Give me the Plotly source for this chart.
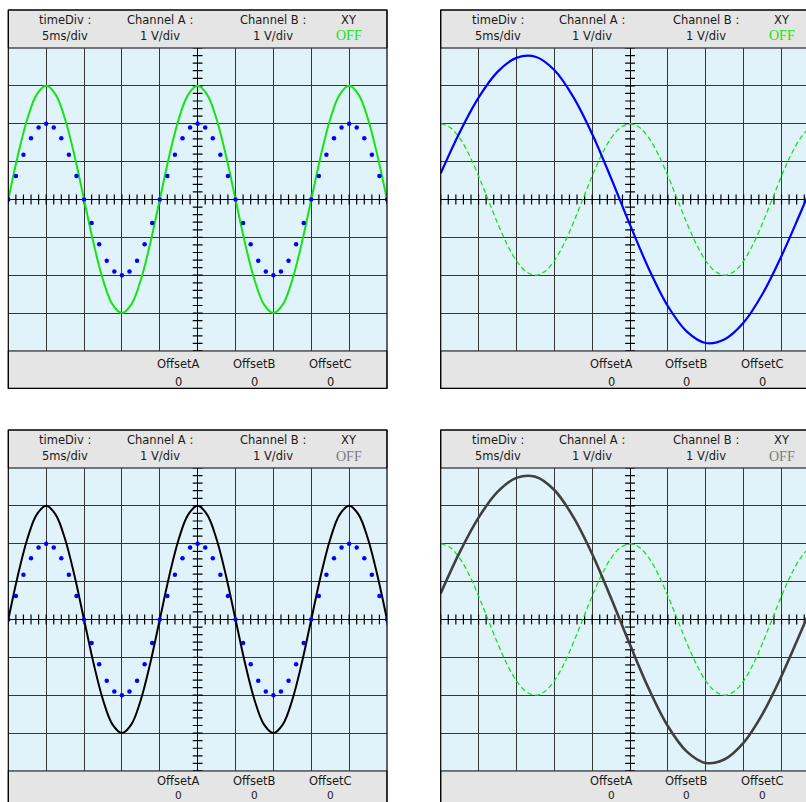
import plotly.graph_objects as go

W, H = 806, 802

# ---- signal data (values in screen divisions) ----
t_quarter = [-5.0, -4.75, -4.5, -4.25, -4.0, -3.75, -3.5, -3.25, -3.0, -2.75,
             -2.5, -2.25, -2.0, -1.75, -1.5, -1.25, -1.0, -0.75, -0.5, -0.25,
             0.0, 0.25, 0.5, 0.75, 1.0, 1.25, 1.5, 1.75, 2.0, 2.25,
             2.5, 2.75, 3.0, 3.25, 3.5, 3.75, 4.0, 4.25, 4.5, 4.75, 5.0]

t_fifth = [-5.0, -4.8, -4.6, -4.4, -4.2, -4.0, -3.8, -3.6, -3.4, -3.2,
           -3.0, -2.8, -2.6, -2.4, -2.2, -2.0, -1.8, -1.6, -1.4, -1.2,
           -1.0, -0.8, -0.6, -0.4, -0.2, 0.0, 0.2, 0.4, 0.6, 0.8,
           1.0, 1.2, 1.4, 1.6, 1.8, 2.0, 2.2, 2.4, 2.6, 2.8,
           3.0, 3.2, 3.4, 3.6, 3.8, 4.0, 4.2, 4.4, 4.6, 4.8, 5.0]

t_half = [-5.0, -4.5, -4.0, -3.5, -3.0, -2.5, -2.0, -1.5, -1.0, -0.5, 0.0,
          0.5, 1.0, 1.5, 2.0, 2.5, 3.0, 3.5, 4.0, 4.5, 5.0]

# channel A trace (50 Hz, 3 div peak)
chan_a = [0.0, 1.15, 2.12, 2.77, 3.0, 2.77, 2.12, 1.15, 0.0, -1.15, -2.12, -2.77, -3.0, -2.77, -2.12, -1.15,
          0.0, 1.15, 2.12, 2.77, 3.0, 2.77, 2.12, 1.15, 0.0, -1.15, -2.12, -2.77, -3.0, -2.77, -2.12, -1.15,
          0.0, 1.15, 2.12, 2.77, 3.0, 2.77, 2.12, 1.15, 0.0]

# sampled channel B points (2 div peak)
chan_b_samples = [0.0, 0.62, 1.18, 1.62, 1.90, 2.0, 1.90, 1.62, 1.18, 0.62,
                  0.0, -0.62, -1.18, -1.62, -1.90, -2.0, -1.90, -1.62, -1.18, -0.62,
                  0.0, 0.62, 1.18, 1.62, 1.90, 2.0, 1.90, 1.62, 1.18, 0.62,
                  0.0, -0.62, -1.18, -1.62, -1.90, -2.0, -1.90, -1.62, -1.18, -0.62,
                  0.0, 0.62, 1.18, 1.62, 1.90, 2.0, 1.90, 1.62, 1.18, 0.62, 0.0]

# slow channel (~20 Hz)
chan_slow = [0.69, 1.77, 2.69, 3.37, 3.74, 3.77, 3.42, 2.71, 1.73, 0.56, -0.67,
             -1.84, -2.82, -3.49, -3.79, -3.69, -3.25, -2.49, -1.49, -0.35, 0.82]

# reference channel (40 Hz, 2 div peak)
chan_ref = [2.0, 1.90, 1.62, 1.18, 0.62, 0.0, -0.62, -1.18, -1.62, -1.90,
            -2.0, -1.90, -1.62, -1.18, -0.62, 0.0, 0.62, 1.18, 1.62, 1.90,
            2.0, 1.90, 1.62, 1.18, 0.62, 0.0, -0.62, -1.18, -1.62, -1.90,
            -2.0, -1.90, -1.62, -1.18, -0.62, 0.0, 0.62, 1.18, 1.62, 1.90, 2.0]

header_top = ["timeDiv :", "Channel A :", "Channel B :", "XY"]
header_bot = ["5ms/div", "1 V/div", "1 V/div", "OFF"]
header_pos = [-3.5, -1.0, 2.0, 4.0]
footer_top = ["OffsetA", "OffsetB", "OffsetC"]
footer_bot = ["0", "0", "0"]
footer_pos = [-0.5, 1.5, 3.5]

# ---- scope geometry (pixels) ----
DIV = 37.87
BOX_W = 10 * DIV
HEAD = 38.0
SCREEN_H = 8 * DIV
FOOT = 37.5
origins = [(8.3, 10.0), (440.7, 10.0), (8.3, 430.0), (440.7, 430.0)]

SCREEN_BG = "#e1f3fa"
PANEL_BG = "#e5e5e5"
GRID = "#363636"
GREEN = "#11e611"
BLUE = "#0000ff"
TEXT = "#1a1a1a"
SANS = "DejaVu Sans"


def px_x(px):
    return px / W


def px_y(py):
    return 1 - py / H


def label(cx, cy, text, font, pad=1):
    return dict(x=px_x(cx), y=px_y(cy), xref="paper", yref="paper", text=text,
                showarrow=False, xanchor="center", yanchor="middle", borderpad=pad, font=font)


fig = go.Figure()
shapes = []
annotations = []
layout_axes = {}

for i, (ox, oy) in enumerate(origins):
    n = i + 1
    xs = "" if n == 1 else str(n)
    scr_top = oy + HEAD
    scr_bot = scr_top + SCREEN_H
    right_px = ox + BOX_W
    vis_right = min(right_px, W)
    x_hi = -5 + (vis_right - ox) / DIV

    layout_axes["xaxis" + xs] = dict(
        domain=[px_x(ox), px_x(vis_right)], range=[-5, x_hi], anchor="y" + xs,
        showgrid=True, dtick=1, tick0=0, gridcolor=GRID, gridwidth=1.2,
        zeroline=True, zerolinecolor="#000000", zerolinewidth=1.3,
        showticklabels=False, ticks="", showline=False, fixedrange=True)
    layout_axes["yaxis" + xs] = dict(
        domain=[px_y(scr_bot), px_y(scr_top)], range=[-4, 4], anchor="x" + xs,
        showgrid=True, dtick=1, tick0=0, gridcolor=GRID, gridwidth=1.2,
        zeroline=True, zerolinecolor="#000000", zerolinewidth=1.3,
        showticklabels=False, ticks="", showline=False, fixedrange=True)

    # header and footer strips
    shapes.append(dict(type="rect", xref="paper", yref="paper", layer="below",
                       x0=px_x(ox), x1=px_x(right_px), y0=px_y(scr_top), y1=px_y(oy),
                       fillcolor=PANEL_BG, line=dict(color="#000000", width=1)))
    shapes.append(dict(type="rect", xref="paper", yref="paper", layer="below",
                       x0=px_x(ox), x1=px_x(right_px), y0=px_y(scr_bot + FOOT), y1=px_y(scr_bot),
                       fillcolor=PANEL_BG, line=dict(color="#000000", width=1)))
    # frame around the whole instrument
    shapes.append(dict(type="rect", xref="paper", yref="paper", layer="above",
                       x0=px_x(ox), x1=px_x(right_px), y0=px_y(scr_bot + FOOT), y1=px_y(oy),
                       line=dict(color="#000000", width=1.2)))

    off_color = GREEN if n <= 2 else "#7a7a7a"
    sans = dict(family=SANS, size=11.5, color=TEXT)
    for lbl_t, lbl_b, pos in zip(header_top, header_bot, header_pos):
        cx = ox + (pos + 5) * DIV
        annotations.append(label(cx, oy + 9.5, lbl_t, sans))
        if lbl_b == "OFF":
            fnt = dict(family="Liberation Serif", size=14, color=off_color)
        else:
            fnt = sans
        annotations.append(label(cx, oy + 26, lbl_b, fnt))

    # the lower scopes run off the bottom of the page, so their footer rows are
    # packed a little tighter to stay on it
    clipped = scr_bot + FOOT > H
    name_y = scr_bot + (10 if clipped else 13)
    val_y = H - 7.5 if clipped else scr_bot + 31
    val_font = dict(family=SANS, size=10.5 if clipped else 11.5, color=TEXT)
    for lbl_t, lbl_b, pos in zip(footer_top, footer_bot, footer_pos):
        cx = ox + (pos + 5) * DIV
        annotations.append(label(cx, name_y, lbl_t, sans, pad=0))
        annotations.append(label(cx, val_y, lbl_b, val_font, pad=0))

    # graticule ticks on the centre lines (every 0.2 div)
    gx = [k / 5 for k in range(-25, 26)]
    gy = [k / 5 for k in range(-20, 21)]
    fig.add_trace(go.Scatter(x=gx, y=[0] * len(gx), mode="markers", xaxis="x" + xs, yaxis="y" + xs,
                             marker=dict(symbol="line-ns", size=7, line=dict(color="#000000", width=1.2)),
                             hoverinfo="skip", showlegend=False))
    fig.add_trace(go.Scatter(x=[0] * len(gy), y=gy, mode="markers", xaxis="x" + xs, yaxis="y" + xs,
                             marker=dict(symbol="line-ew", size=7, line=dict(color="#000000", width=1.2)),
                             hoverinfo="skip", showlegend=False))

    if n in (1, 3):
        line_col = GREEN if n == 1 else "#000000"
        fig.add_trace(go.Scatter(x=t_quarter, y=chan_a, mode="lines", xaxis="x" + xs, yaxis="y" + xs,
                                 line=dict(color=line_col, width=2, shape="spline"),
                                 hoverinfo="skip", showlegend=False))
        fig.add_trace(go.Scatter(x=t_fifth, y=chan_b_samples, mode="markers", xaxis="x" + xs, yaxis="y" + xs,
                                 marker=dict(color=BLUE, size=4.5),
                                 hoverinfo="skip", showlegend=False))
    else:
        line_col = BLUE if n == 2 else "#404040"
        line_w = 2.2 if n == 2 else 2.6
        fig.add_trace(go.Scatter(x=t_quarter, y=chan_ref, mode="lines", xaxis="x" + xs, yaxis="y" + xs,
                                 line=dict(color=GREEN, width=1.3, dash="5px,3px", shape="spline"),
                                 hoverinfo="skip", showlegend=False))
        fig.add_trace(go.Scatter(x=t_half, y=chan_slow, mode="lines", xaxis="x" + xs, yaxis="y" + xs,
                                 line=dict(color=line_col, width=line_w, shape="spline"),
                                 hoverinfo="skip", showlegend=False))

fig.update_layout(
    width=W, height=H, margin=dict(l=0, r=0, t=0, b=0),
    paper_bgcolor="#ffffff", plot_bgcolor=SCREEN_BG,
    shapes=shapes, annotations=annotations, hovermode=False,
    **layout_axes)

fig.write_html("out.html", config={"displayModeBar": False})
